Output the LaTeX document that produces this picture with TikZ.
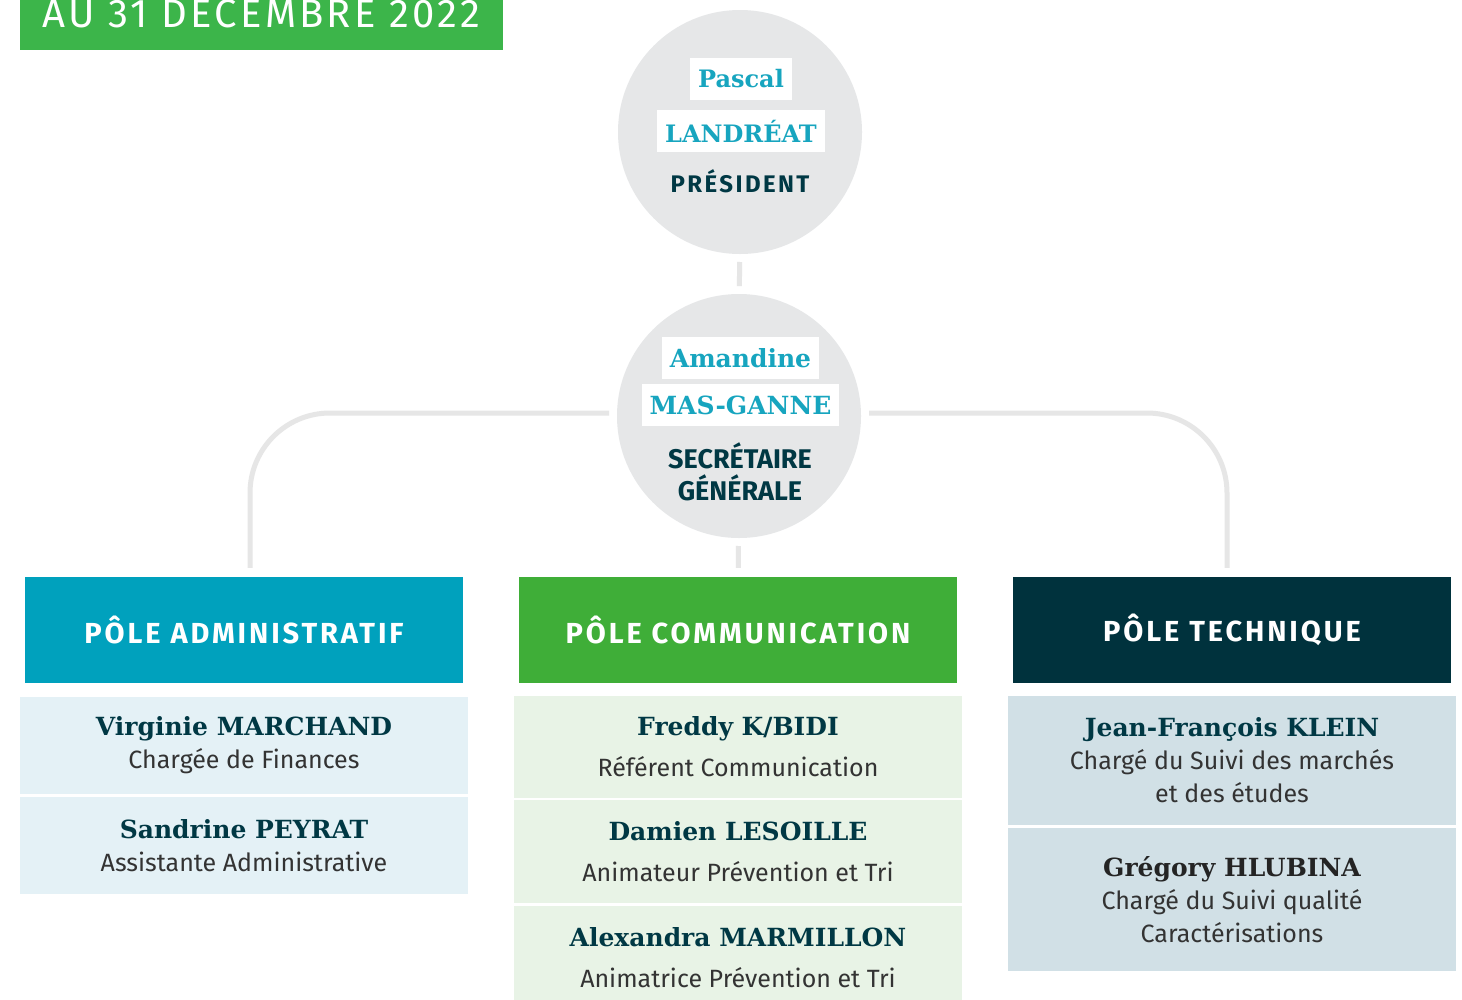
\documentclass[tikz,border=0pt]{standalone}
\usepackage{fontspec}
\setmainfont{Fira Sans}
\newfontfamily\slab{DejaVu Serif}
\newfontfamily\polefont[LetterSpace=10]{Fira Sans}
\newfontfamily\datefont[LetterSpace=8]{Fira Sans}
\usetikzlibrary{positioning}

\definecolor{circgray}{HTML}{E6E7E8}
\definecolor{linegray}{HTML}{E6E6E6}
\definecolor{bannergreen}{HTML}{3CB54A}
\definecolor{adminblue}{HTML}{00A1BD}
\definecolor{comgreen}{HTML}{3FAE38}
\definecolor{techdark}{HTML}{00323D}
\definecolor{adminlight}{HTML}{E4F1F6}
\definecolor{comlight}{HTML}{E8F3E6}
\definecolor{techlight}{HTML}{D1E0E6}
\definecolor{nameteal}{HTML}{17A5BF}
\definecolor{namedark}{HTML}{003844}
\definecolor{rolegray}{HTML}{333333}

\begin{document}
\begin{tikzpicture}[x=1pt,y=1pt]
\tikzstyle{circ}=[circle,fill=circgray,minimum size=244pt,inner sep=0pt,outer sep=8pt]
\tikzstyle{namebox}=[fill=white,inner xsep=8pt,inner ysep=0pt,minimum height=42pt,text=nameteal,font=\slab\bfseries\fontsize{24}{24}\selectfont]
\tikzstyle{title}=[text=namedark,align=center,font=\bfseries\fontsize{27}{32}\selectfont]
\tikzstyle{link}=[line width=5pt,draw=linegray]
\tikzstyle{pole}=[minimum width=438pt,minimum height=106pt,inner sep=0pt,text=white,font=\polefont\bfseries\fontsize{29}{29}\selectfont]
\tikzstyle{member}=[minimum width=448pt,inner sep=0pt,align=center,text=rolegray,font=\fontsize{25}{33}\selectfont]

\clip (0,0) rectangle (1462,-999);
\fill [white] (0,0) rectangle (1462,-999);

% date banner
\node (date) [fill=bannergreen,minimum width=483pt,minimum height=78pt,inner sep=0pt,text=white,font=\datefont\fontsize{40}{40}\selectfont] at (261.5,-11) {};
\node (datetext) [text=white,inner sep=0pt,font=\datefont\fontsize{40}{40}\selectfont] at (261.5,-14.2) {AU 31 DECEMBRE 2022};

% president and secretary
\node [circ] (pres) at (740,-132) {};
\node [namebox] (pfirst) at (741,-78.5) {Pascal};
\node [namebox] (plast) at (741,-131) {LANDRÉAT};
\node [title,font=\polefont\bfseries\fontsize{24}{32}\selectfont] (ptitle) at (740,-181) {PRÉSIDENT};

\node [circ] (sg) at (739,-416) {};
\node [namebox,font=\slab\bfseries\fontsize{25}{25}\selectfont] (sfirst) at (740.5,-358) {Amandine};
\node [namebox,font=\slab\bfseries\fontsize{25}{25}\selectfont] (slast) at (740.5,-405) {MAS-GANNE};
\node [title] (stitle) at (740,-471.5) {SECRÉTAIRE\\GÉNÉRALE};

\draw [link] (pres) -- (sg);

% poles
\node [pole,fill=adminblue] (adm) at (244,-630) {PÔLE ADMINISTRATIF};
\node [pole,fill=comgreen] (com) at (738,-630) {PÔLE COMMUNICATION};
\node [pole,fill=techdark] (tec) at (1232,-630) {PÔLE TECHNIQUE};

\draw [link,rounded corners=80pt,shorten >=9pt] ([yshift=3pt]sg.west) -| ([xshift=6pt]adm.north);
\draw [link,shorten >=9pt] (sg) -- (com);
\draw [link,rounded corners=80pt,shorten >=9pt] ([yshift=3pt]sg.east) -| ([xshift=-5pt]tec.north);

% members
\node [member,fill=adminlight,minimum height=97pt] (m1) at (244,-745)
 {{\slab\bfseries\fontsize{25}{25}\selectfont\color{namedark}Virginie MARCHAND}\\Chargée de Finances};
\node [member,fill=adminlight,minimum height=97pt,below=3pt of m1] (m2)
 {{\slab\bfseries\fontsize{25}{25}\selectfont\color{namedark}Sandrine PEYRAT}\\Assistante Administrative};

\node [member,fill=comlight,minimum height=102pt] (m3) at (738,-747)
 {{\slab\bfseries\fontsize{25}{25}\selectfont\color{namedark}Freddy K/BIDI}\\[8pt]Référent Communication};
\node [member,fill=comlight,minimum height=103pt,below=2pt of m3] (m4)
 {{\slab\bfseries\fontsize{25}{25}\selectfont\color{namedark}Damien LESOILLE}\\[8pt]Animateur Prévention et Tri};
\node [member,fill=comlight,minimum height=103pt,below=2pt of m4] (m5)
 {{\slab\bfseries\fontsize{25}{25}\selectfont\color{namedark}Alexandra MARMILLON}\\[8pt]Animatrice Prévention et Tri};

\node [member,fill=techlight,minimum height=129pt] (m6) at (1232,-760.5)
 {{\slab\bfseries\fontsize{25}{25}\selectfont\color{namedark}Jean-François KLEIN}\\Chargé du Suivi des marchés\\et des études};
\node [member,fill=techlight,minimum height=143pt,below=3pt of m6] (m7)
 {{\slab\bfseries\fontsize{25}{25}\selectfont\color{rolegray!70!black}Grégory HLUBINA}\\Chargé du Suivi qualité\\Caractérisations};
\end{tikzpicture}
\end{document}
